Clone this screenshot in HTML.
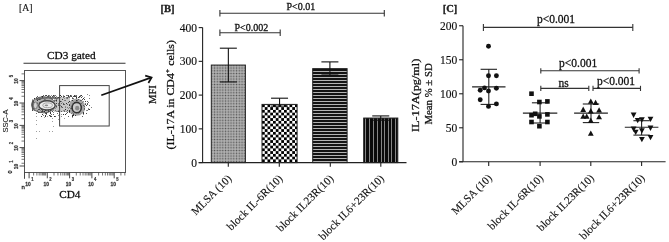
<!DOCTYPE html>
<html><head><meta charset="utf-8"><style>
html,body{margin:0;padding:0;background:#fff;}
body{width:669px;height:242px;overflow:hidden;font-family:"Liberation Serif",serif;}
svg{display:block;filter:grayscale(1);}
text{stroke:#111;stroke-width:0.28px;}
</style></head><body>
<svg width="669" height="242" viewBox="0 0 669 242">
<rect width="669" height="242" fill="#fff"/>
<text transform="translate(19,10.5) scale(0.88,1)" font-family="Liberation Serif" font-size="11" fill="#222" style="stroke-width:0.2px">[A]</text>
<text x="47" y="58.6" font-family="Liberation Serif" font-size="11.3" fill="#111">CD3 gated</text>
<line x1="23.5" y1="63.2" x2="125.5" y2="63.2" stroke="#333" stroke-width="1.1"/>
<rect x="24.5" y="70.5" width="101.0" height="102.0" fill="none" stroke="#555" stroke-width="1"/>
<line x1="19.5" y1="80.6" x2="24.5" y2="80.6" stroke="#333" stroke-width="0.9"/>
<line x1="19.5" y1="103.0" x2="24.5" y2="103.0" stroke="#333" stroke-width="0.9"/>
<line x1="19.5" y1="125.4" x2="24.5" y2="125.4" stroke="#333" stroke-width="0.9"/>
<line x1="19.5" y1="147.6" x2="24.5" y2="147.6" stroke="#333" stroke-width="0.9"/>
<line x1="19.5" y1="166.0" x2="24.5" y2="166.0" stroke="#333" stroke-width="0.9"/>
<line x1="21.5" y1="96.26" x2="24.5" y2="96.26" stroke="#444" stroke-width="0.75"/>
<line x1="21.5" y1="92.31" x2="24.5" y2="92.31" stroke="#444" stroke-width="0.75"/>
<line x1="21.5" y1="89.51" x2="24.5" y2="89.51" stroke="#444" stroke-width="0.75"/>
<line x1="21.5" y1="87.34" x2="24.5" y2="87.34" stroke="#444" stroke-width="0.75"/>
<line x1="21.5" y1="85.57" x2="24.5" y2="85.57" stroke="#444" stroke-width="0.75"/>
<line x1="21.5" y1="84.07" x2="24.5" y2="84.07" stroke="#444" stroke-width="0.75"/>
<line x1="21.5" y1="82.77" x2="24.5" y2="82.77" stroke="#444" stroke-width="0.75"/>
<line x1="21.5" y1="81.62" x2="24.5" y2="81.62" stroke="#444" stroke-width="0.75"/>
<line x1="21.5" y1="118.66" x2="24.5" y2="118.66" stroke="#444" stroke-width="0.75"/>
<line x1="21.5" y1="114.71" x2="24.5" y2="114.71" stroke="#444" stroke-width="0.75"/>
<line x1="21.5" y1="111.91" x2="24.5" y2="111.91" stroke="#444" stroke-width="0.75"/>
<line x1="21.5" y1="109.74" x2="24.5" y2="109.74" stroke="#444" stroke-width="0.75"/>
<line x1="21.5" y1="107.97" x2="24.5" y2="107.97" stroke="#444" stroke-width="0.75"/>
<line x1="21.5" y1="106.47" x2="24.5" y2="106.47" stroke="#444" stroke-width="0.75"/>
<line x1="21.5" y1="105.17" x2="24.5" y2="105.17" stroke="#444" stroke-width="0.75"/>
<line x1="21.5" y1="104.02" x2="24.5" y2="104.02" stroke="#444" stroke-width="0.75"/>
<line x1="21.5" y1="141.06" x2="24.5" y2="141.06" stroke="#444" stroke-width="0.75"/>
<line x1="21.5" y1="137.11" x2="24.5" y2="137.11" stroke="#444" stroke-width="0.75"/>
<line x1="21.5" y1="134.31" x2="24.5" y2="134.31" stroke="#444" stroke-width="0.75"/>
<line x1="21.5" y1="132.14" x2="24.5" y2="132.14" stroke="#444" stroke-width="0.75"/>
<line x1="21.5" y1="130.37" x2="24.5" y2="130.37" stroke="#444" stroke-width="0.75"/>
<line x1="21.5" y1="128.87" x2="24.5" y2="128.87" stroke="#444" stroke-width="0.75"/>
<line x1="21.5" y1="127.57" x2="24.5" y2="127.57" stroke="#444" stroke-width="0.75"/>
<line x1="21.5" y1="126.42" x2="24.5" y2="126.42" stroke="#444" stroke-width="0.75"/>
<line x1="21.5" y1="163.26" x2="24.5" y2="163.26" stroke="#444" stroke-width="0.75"/>
<line x1="21.5" y1="159.31" x2="24.5" y2="159.31" stroke="#444" stroke-width="0.75"/>
<line x1="21.5" y1="156.51" x2="24.5" y2="156.51" stroke="#444" stroke-width="0.75"/>
<line x1="21.5" y1="154.34" x2="24.5" y2="154.34" stroke="#444" stroke-width="0.75"/>
<line x1="21.5" y1="152.57" x2="24.5" y2="152.57" stroke="#444" stroke-width="0.75"/>
<line x1="21.5" y1="151.07" x2="24.5" y2="151.07" stroke="#444" stroke-width="0.75"/>
<line x1="21.5" y1="149.77" x2="24.5" y2="149.77" stroke="#444" stroke-width="0.75"/>
<line x1="21.5" y1="148.62" x2="24.5" y2="148.62" stroke="#444" stroke-width="0.75"/>
<line x1="21.5" y1="73.86" x2="24.5" y2="73.86" stroke="#444" stroke-width="0.75"/>
<line x1="24.5" y1="172.5" x2="24.5" y2="178.8" stroke="#333" stroke-width="0.9"/>
<line x1="29.1" y1="172.5" x2="29.1" y2="178.3" stroke="#333" stroke-width="0.9"/>
<line x1="47.3" y1="172.5" x2="47.3" y2="178.3" stroke="#333" stroke-width="0.9"/>
<line x1="69.6" y1="172.5" x2="69.6" y2="178.3" stroke="#333" stroke-width="0.9"/>
<line x1="91.9" y1="172.5" x2="91.9" y2="178.3" stroke="#333" stroke-width="0.9"/>
<line x1="114.2" y1="172.5" x2="114.2" y2="178.3" stroke="#333" stroke-width="0.9"/>
<line x1="54.01" y1="172.5" x2="54.01" y2="175.5" stroke="#444" stroke-width="0.75"/>
<line x1="57.94" y1="172.5" x2="57.94" y2="175.5" stroke="#444" stroke-width="0.75"/>
<line x1="60.73" y1="172.5" x2="60.73" y2="175.5" stroke="#444" stroke-width="0.75"/>
<line x1="62.89" y1="172.5" x2="62.89" y2="175.5" stroke="#444" stroke-width="0.75"/>
<line x1="64.65" y1="172.5" x2="64.65" y2="175.5" stroke="#444" stroke-width="0.75"/>
<line x1="66.15" y1="172.5" x2="66.15" y2="175.5" stroke="#444" stroke-width="0.75"/>
<line x1="67.44" y1="172.5" x2="67.44" y2="175.5" stroke="#444" stroke-width="0.75"/>
<line x1="68.58" y1="172.5" x2="68.58" y2="175.5" stroke="#444" stroke-width="0.75"/>
<line x1="76.31" y1="172.5" x2="76.31" y2="175.5" stroke="#444" stroke-width="0.75"/>
<line x1="80.24" y1="172.5" x2="80.24" y2="175.5" stroke="#444" stroke-width="0.75"/>
<line x1="83.03" y1="172.5" x2="83.03" y2="175.5" stroke="#444" stroke-width="0.75"/>
<line x1="85.19" y1="172.5" x2="85.19" y2="175.5" stroke="#444" stroke-width="0.75"/>
<line x1="86.95" y1="172.5" x2="86.95" y2="175.5" stroke="#444" stroke-width="0.75"/>
<line x1="88.45" y1="172.5" x2="88.45" y2="175.5" stroke="#444" stroke-width="0.75"/>
<line x1="89.74" y1="172.5" x2="89.74" y2="175.5" stroke="#444" stroke-width="0.75"/>
<line x1="90.88" y1="172.5" x2="90.88" y2="175.5" stroke="#444" stroke-width="0.75"/>
<line x1="98.61" y1="172.5" x2="98.61" y2="175.5" stroke="#444" stroke-width="0.75"/>
<line x1="102.54" y1="172.5" x2="102.54" y2="175.5" stroke="#444" stroke-width="0.75"/>
<line x1="105.33" y1="172.5" x2="105.33" y2="175.5" stroke="#444" stroke-width="0.75"/>
<line x1="107.49" y1="172.5" x2="107.49" y2="175.5" stroke="#444" stroke-width="0.75"/>
<line x1="109.25" y1="172.5" x2="109.25" y2="175.5" stroke="#444" stroke-width="0.75"/>
<line x1="110.75" y1="172.5" x2="110.75" y2="175.5" stroke="#444" stroke-width="0.75"/>
<line x1="112.04" y1="172.5" x2="112.04" y2="175.5" stroke="#444" stroke-width="0.75"/>
<line x1="113.18" y1="172.5" x2="113.18" y2="175.5" stroke="#444" stroke-width="0.75"/>
<line x1="120.91" y1="172.5" x2="120.91" y2="175.5" stroke="#444" stroke-width="0.75"/>
<line x1="124.84" y1="172.5" x2="124.84" y2="175.5" stroke="#444" stroke-width="0.75"/>
<line x1="33.63895192021725" y1="172.5" x2="33.63895192021725" y2="175.5" stroke="#444" stroke-width="0.75"/>
<line x1="36.87903108684179" y1="172.5" x2="36.87903108684179" y2="175.5" stroke="#444" stroke-width="0.75"/>
<line x1="39.17790384043451" y1="172.5" x2="39.17790384043451" y2="175.5" stroke="#444" stroke-width="0.75"/>
<line x1="40.96104807978275" y1="172.5" x2="40.96104807978275" y2="175.5" stroke="#444" stroke-width="0.75"/>
<line x1="42.41798300705904" y1="172.5" x2="42.41798300705904" y2="175.5" stroke="#444" stroke-width="0.75"/>
<line x1="43.64980393626232" y1="172.5" x2="43.64980393626232" y2="175.5" stroke="#444" stroke-width="0.75"/>
<line x1="44.71685576065176" y1="172.5" x2="44.71685576065176" y2="175.5" stroke="#444" stroke-width="0.75"/>
<line x1="45.658062173683575" y1="172.5" x2="45.658062173683575" y2="175.5" stroke="#444" stroke-width="0.75"/>
<text transform="translate(28.1,185.9) scale(0.8,1)" font-family="Liberation Sans" font-size="6.2" font-weight="bold" text-anchor="middle" fill="#333" style="stroke:#333;stroke-width:0.25px">10</text>
<text transform="translate(32.3,180.9) scale(0.85,1)" font-family="Liberation Sans" font-size="4.9" font-weight="bold" text-anchor="middle" fill="#333" style="stroke:#333;stroke-width:0.2px">1</text>
<text transform="translate(46.3,185.9) scale(0.8,1)" font-family="Liberation Sans" font-size="6.2" font-weight="bold" text-anchor="middle" fill="#333" style="stroke:#333;stroke-width:0.25px">10</text>
<text transform="translate(50.5,180.9) scale(0.85,1)" font-family="Liberation Sans" font-size="4.9" font-weight="bold" text-anchor="middle" fill="#333" style="stroke:#333;stroke-width:0.2px">2</text>
<text transform="translate(68.6,185.9) scale(0.8,1)" font-family="Liberation Sans" font-size="6.2" font-weight="bold" text-anchor="middle" fill="#333" style="stroke:#333;stroke-width:0.25px">10</text>
<text transform="translate(72.8,180.9) scale(0.85,1)" font-family="Liberation Sans" font-size="4.9" font-weight="bold" text-anchor="middle" fill="#333" style="stroke:#333;stroke-width:0.2px">3</text>
<text transform="translate(90.9,185.9) scale(0.8,1)" font-family="Liberation Sans" font-size="6.2" font-weight="bold" text-anchor="middle" fill="#333" style="stroke:#333;stroke-width:0.25px">10</text>
<text transform="translate(95.1,180.9) scale(0.85,1)" font-family="Liberation Sans" font-size="4.9" font-weight="bold" text-anchor="middle" fill="#333" style="stroke:#333;stroke-width:0.2px">4</text>
<text transform="translate(113.2,185.9) scale(0.8,1)" font-family="Liberation Sans" font-size="6.2" font-weight="bold" text-anchor="middle" fill="#333" style="stroke:#333;stroke-width:0.25px">10</text>
<text transform="translate(117.4,180.9) scale(0.85,1)" font-family="Liberation Sans" font-size="4.9" font-weight="bold" text-anchor="middle" fill="#333" style="stroke:#333;stroke-width:0.2px">5</text>
<text x="21.6" y="188.6" font-family="Liberation Sans" font-size="6" fill="#222">n</text>
<text transform="translate(17.9,81.1) rotate(-90) scale(0.8,1)" font-family="Liberation Sans" font-size="6.2" font-weight="bold" text-anchor="middle" fill="#333" style="stroke:#333;stroke-width:0.25px">10</text>
<text transform="translate(12.7,76.2) rotate(-90) scale(0.85,1)" font-family="Liberation Sans" font-size="4.9" font-weight="bold" text-anchor="middle" fill="#333" style="stroke:#333;stroke-width:0.2px">5</text>
<text transform="translate(17.9,103.5) rotate(-90) scale(0.8,1)" font-family="Liberation Sans" font-size="6.2" font-weight="bold" text-anchor="middle" fill="#333" style="stroke:#333;stroke-width:0.25px">10</text>
<text transform="translate(12.7,98.6) rotate(-90) scale(0.85,1)" font-family="Liberation Sans" font-size="4.9" font-weight="bold" text-anchor="middle" fill="#333" style="stroke:#333;stroke-width:0.2px">4</text>
<text transform="translate(17.9,125.9) rotate(-90) scale(0.8,1)" font-family="Liberation Sans" font-size="6.2" font-weight="bold" text-anchor="middle" fill="#333" style="stroke:#333;stroke-width:0.25px">10</text>
<text transform="translate(12.7,121.0) rotate(-90) scale(0.85,1)" font-family="Liberation Sans" font-size="4.9" font-weight="bold" text-anchor="middle" fill="#333" style="stroke:#333;stroke-width:0.2px">3</text>
<text transform="translate(17.9,148.1) rotate(-90) scale(0.8,1)" font-family="Liberation Sans" font-size="6.2" font-weight="bold" text-anchor="middle" fill="#333" style="stroke:#333;stroke-width:0.25px">10</text>
<text transform="translate(12.7,143.2) rotate(-90) scale(0.85,1)" font-family="Liberation Sans" font-size="4.9" font-weight="bold" text-anchor="middle" fill="#333" style="stroke:#333;stroke-width:0.2px">2</text>
<text transform="translate(17.9,166.5) rotate(-90) scale(0.8,1)" font-family="Liberation Sans" font-size="6.2" font-weight="bold" text-anchor="middle" fill="#333" style="stroke:#333;stroke-width:0.25px">10</text>
<text transform="translate(12.7,161.6) rotate(-90) scale(0.85,1)" font-family="Liberation Sans" font-size="4.9" font-weight="bold" text-anchor="middle" fill="#333" style="stroke:#333;stroke-width:0.2px">1</text>
<g transform="translate(12.3,173.5) rotate(-90)"><text x="0" y="0" font-family="Liberation Sans" font-size="5.5" fill="#222">0</text></g>
<text transform="translate(8.4,121) rotate(-90)" font-family="Liberation Sans" font-size="7.5" text-anchor="middle" fill="#222" style="stroke-width:0.1px">SSC-A</text>
<text x="59.2" y="197.6" font-family="Liberation Serif" font-size="11.2" fill="#111">CD4</text>
<g filter="url(#blur1)">
<ellipse cx="43.6" cy="104.8" rx="12.0" ry="8.0" fill="#b2b2b2" stroke="#5a5a5a" stroke-width="1"/>
<ellipse cx="76.6" cy="107.2" rx="8.6" ry="8.6" fill="#a6a6a6"/>
<rect x="54" y="97" width="16" height="15" fill="#c8c8c8"/>
<path d="M60 95h1v1h-1zM42 96h1v1h-1zM55 97h1v1h-1zM69 111h1v1h-1z" fill="rgb(32,32,32)"/>
<path d="M53 95h1v1h-1zM81 95h1v1h-1zM79 96h1v1h-1zM42 97h1v1h-1zM46 97h1v1h-1zM76 97h1v1h-1zM34 98h1v1h-1zM83 98h1v1h-1zM39 99h1v1h-1zM62 99h1v1h-1zM37 100h1v1h-1zM56 100h1v1h-1zM72 100h1v1h-1zM76 100h1v1h-1zM33 101h1v1h-1zM60 101h1v1h-1zM69 101h1v1h-1zM66 103h1v1h-1zM48 104h1v1h-1zM74 104h1v1h-1zM40 105h1v1h-1zM47 105h1v1h-1zM69 105h1v1h-1zM33 106h1v1h-1zM78 107h1v1h-1zM65 109h1v1h-1zM89 109h1v1h-1zM45 110h1v1h-1zM69 110h1v1h-1zM44 111h1v1h-1zM78 111h1v1h-1zM46 113h1v1h-1zM50 113h1v1h-1zM83 113h1v1h-1zM42 114h1v1h-1zM63 114h1v1h-1zM65 114h1v1h-1zM72 115h1v1h-1zM73 115h1v1h-1zM45 116h1v1h-1zM50 116h1v1h-1zM54 116h1v1h-1zM72 116h1v1h-1z" fill="rgb(48,48,48)"/>
<path d="M46 95h1v1h-1zM68 95h1v1h-1zM70 95h1v1h-1zM74 95h1v1h-1zM61 96h1v1h-1zM64 96h1v1h-1zM68 96h1v1h-1zM74 96h1v1h-1zM75 96h1v1h-1zM58 97h1v1h-1zM78 97h1v1h-1zM51 98h1v1h-1zM38 99h1v1h-1zM84 99h1v1h-1zM85 101h1v1h-1zM56 103h1v1h-1zM35 105h1v1h-1zM59 105h1v1h-1zM86 105h1v1h-1zM47 106h1v1h-1zM53 106h1v1h-1zM61 106h1v1h-1zM53 107h1v1h-1zM80 107h1v1h-1zM34 108h1v1h-1zM44 108h1v1h-1zM72 108h1v1h-1zM42 109h1v1h-1zM47 109h1v1h-1zM73 109h1v1h-1zM32 110h1v1h-1zM50 110h1v1h-1zM78 110h1v1h-1zM42 111h1v1h-1zM48 111h1v1h-1zM58 111h1v1h-1zM50 112h1v1h-1zM83 112h1v1h-1zM73 114h1v1h-1zM45 115h1v1h-1zM49 115h1v1h-1zM75 115h1v1h-1zM41 116h1v1h-1zM51 116h1v1h-1z" fill="rgb(64,64,64)"/>
<path d="M45 95h1v1h-1zM48 96h1v1h-1zM52 96h1v1h-1zM71 96h1v1h-1zM73 96h1v1h-1zM47 97h1v1h-1zM81 97h1v1h-1zM37 98h1v1h-1zM72 98h1v1h-1zM82 99h1v1h-1zM59 102h1v1h-1zM68 102h1v1h-1zM59 103h1v1h-1zM74 103h1v1h-1zM32 104h1v1h-1zM41 104h1v1h-1zM44 104h1v1h-1zM49 104h1v1h-1zM50 104h1v1h-1zM63 104h1v1h-1zM69 104h1v1h-1zM85 104h1v1h-1zM87 104h1v1h-1zM80 105h1v1h-1zM56 106h1v1h-1zM81 106h1v1h-1zM75 107h1v1h-1zM71 108h1v1h-1zM38 109h1v1h-1zM39 109h1v1h-1zM41 109h1v1h-1zM42 110h1v1h-1zM48 110h1v1h-1zM67 110h1v1h-1zM52 111h1v1h-1zM59 111h1v1h-1zM38 112h1v1h-1zM67 112h1v1h-1zM86 113h1v1h-1zM59 114h1v1h-1z" fill="rgb(80,80,80)"/>
<path d="M43 95h1v1h-1zM48 95h1v1h-1zM37 96h1v1h-1zM47 96h1v1h-1zM50 96h1v1h-1zM63 96h1v1h-1zM70 96h1v1h-1zM76 96h1v1h-1zM36 97h1v1h-1zM48 97h1v1h-1zM50 97h1v1h-1zM53 97h1v1h-1zM67 97h1v1h-1zM76 98h1v1h-1zM78 99h1v1h-1zM77 100h1v1h-1zM80 100h1v1h-1zM47 101h1v1h-1zM87 101h1v1h-1zM34 102h1v1h-1zM39 102h1v1h-1zM43 102h1v1h-1zM74 102h1v1h-1zM75 102h1v1h-1zM37 103h1v1h-1zM54 103h1v1h-1zM63 103h1v1h-1zM87 103h1v1h-1zM39 104h1v1h-1zM64 104h1v1h-1zM73 104h1v1h-1zM58 105h1v1h-1zM83 105h1v1h-1zM40 106h1v1h-1zM75 106h1v1h-1zM84 106h1v1h-1zM59 107h1v1h-1zM62 107h1v1h-1zM48 108h1v1h-1zM84 108h1v1h-1zM76 109h1v1h-1zM41 111h1v1h-1zM49 111h1v1h-1zM61 111h1v1h-1zM64 111h1v1h-1zM74 111h1v1h-1zM39 112h1v1h-1zM59 112h1v1h-1zM69 112h1v1h-1zM79 112h1v1h-1zM45 113h1v1h-1zM66 113h1v1h-1zM53 114h1v1h-1zM55 116h1v1h-1zM68 116h1v1h-1zM82 116h1v1h-1z" fill="rgb(96,96,96)"/>
<path d="M55 95h1v1h-1zM66 95h1v1h-1zM76 95h1v1h-1zM80 95h1v1h-1zM41 96h1v1h-1zM54 96h1v1h-1zM80 96h1v1h-1zM57 97h1v1h-1zM63 97h1v1h-1zM69 97h1v1h-1zM67 98h1v1h-1zM73 98h1v1h-1zM40 99h1v1h-1zM44 99h1v1h-1zM54 100h1v1h-1zM65 100h1v1h-1zM81 100h1v1h-1zM54 101h1v1h-1zM58 103h1v1h-1zM61 103h1v1h-1zM78 103h1v1h-1zM79 103h1v1h-1zM81 103h1v1h-1zM43 104h1v1h-1zM67 104h1v1h-1zM80 104h1v1h-1zM42 105h1v1h-1zM72 105h1v1h-1zM73 105h1v1h-1zM77 105h1v1h-1zM89 105h1v1h-1zM48 107h1v1h-1zM77 107h1v1h-1zM70 108h1v1h-1zM84 109h1v1h-1zM88 109h1v1h-1zM34 110h1v1h-1zM37 110h1v1h-1zM55 110h1v1h-1zM43 111h1v1h-1zM36 113h1v1h-1zM57 113h1v1h-1zM73 113h1v1h-1zM51 114h1v1h-1z" fill="rgb(112,112,112)"/>
<path d="M67 95h1v1h-1zM43 96h1v1h-1zM82 96h1v1h-1zM60 97h1v1h-1zM66 97h1v1h-1zM79 97h1v1h-1zM89 98h1v1h-1zM37 99h1v1h-1zM45 99h1v1h-1zM56 99h1v1h-1zM53 100h1v1h-1zM55 100h1v1h-1zM64 100h1v1h-1zM56 101h1v1h-1zM61 101h1v1h-1zM32 102h1v1h-1zM33 102h1v1h-1zM46 102h1v1h-1zM51 102h1v1h-1zM82 102h1v1h-1zM88 102h1v1h-1zM36 103h1v1h-1zM73 103h1v1h-1zM85 103h1v1h-1zM45 104h1v1h-1zM58 104h1v1h-1zM56 105h1v1h-1zM60 105h1v1h-1zM33 107h1v1h-1zM44 107h1v1h-1zM45 107h1v1h-1zM65 107h1v1h-1zM67 107h1v1h-1zM69 107h1v1h-1zM91 107h1v1h-1zM46 110h1v1h-1zM64 110h1v1h-1zM87 110h1v1h-1zM73 111h1v1h-1zM77 111h1v1h-1zM53 112h1v1h-1zM72 112h1v1h-1zM71 113h1v1h-1zM78 113h1v1h-1zM46 114h1v1h-1zM43 115h1v1h-1zM50 115h1v1h-1zM47 116h1v1h-1z" fill="rgb(128,128,128)"/>
<path d="M87 94h1v1h-1zM49 95h1v1h-1zM51 95h1v1h-1zM54 95h1v1h-1zM59 95h1v1h-1zM63 95h1v1h-1zM71 95h1v1h-1zM75 95h1v1h-1zM89 95h1v1h-1zM44 96h1v1h-1zM49 96h1v1h-1zM53 96h1v1h-1zM56 96h1v1h-1zM69 96h1v1h-1zM43 97h1v1h-1zM52 97h1v1h-1zM68 97h1v1h-1zM72 97h1v1h-1zM84 97h1v1h-1zM39 98h1v1h-1zM52 98h1v1h-1zM58 98h1v1h-1zM64 98h1v1h-1zM66 98h1v1h-1zM44 100h1v1h-1zM42 101h1v1h-1zM73 101h1v1h-1zM83 101h1v1h-1zM37 102h1v1h-1zM42 102h1v1h-1zM72 103h1v1h-1zM80 103h1v1h-1zM49 106h1v1h-1zM65 106h1v1h-1zM71 106h1v1h-1zM56 107h1v1h-1zM61 107h1v1h-1zM32 108h1v1h-1zM36 108h1v1h-1zM55 108h1v1h-1zM68 108h1v1h-1zM88 108h1v1h-1zM77 109h1v1h-1zM40 110h1v1h-1zM53 110h1v1h-1zM58 110h1v1h-1zM63 110h1v1h-1zM86 110h1v1h-1zM56 111h1v1h-1zM57 111h1v1h-1zM66 111h1v1h-1zM76 111h1v1h-1zM75 112h1v1h-1zM61 114h1v1h-1zM83 114h1v1h-1zM58 115h1v1h-1zM61 116h1v1h-1z" fill="rgb(144,144,144)"/>
<path d="M71 100h1v1h-1zM62 102h1v1h-1zM46 105h1v1h-1zM81 108h1v1h-1zM36 116h1v1h-1zM36 120h1v1h-1zM36 124h1v1h-1zM36 131h1v1h-1zM39 131h1v1h-1zM36 138h1v1h-1zM49 131h1v1h-1zM52 131h1v1h-1zM53 126h1v1h-1zM52 118h1v1h-1zM52 121h1v1h-1zM44 117h1v1h-1zM58 119h1v1h-1zM47 116h1v1h-1zM64 118h1v1h-1zM72 117h1v1h-1z" fill="rgb(160,160,160)"/>
<ellipse cx="32.9" cy="105" rx="1.2" ry="6" fill="#555"/>
<path d="M36 99.5 Q46 96.5 58 98.5" fill="none" stroke="#666" stroke-width="1.6"/>
<ellipse cx="35.4" cy="105.4" rx="2.0" ry="3.3" fill="#d4d4d4" stroke="#6a6a6a" stroke-width="0.8"/>
<ellipse cx="47" cy="105.4" rx="8.2" ry="4.6" fill="#ececec" stroke="#444" stroke-width="1.4"/>
<ellipse cx="47.6" cy="105.3" rx="4.8" ry="2.4" fill="none" stroke="#9a9a9a" stroke-width="0.9"/>
<ellipse cx="46.4" cy="105.3" rx="1.8" ry="0.9" fill="#8a8a8a"/>
<ellipse cx="76.7" cy="107.6" rx="4.6" ry="5.2" fill="#cdcdcd" stroke="#333" stroke-width="1.6"/>
<ellipse cx="77.2" cy="108.2" rx="2.1" ry="2.4" fill="#8c8c8c"/>
</g>
<rect x="59.6" y="85.6" width="49.6" height="40.4" fill="none" stroke="#444" stroke-width="1"/>
<line x1="101.3" y1="95.2" x2="151" y2="77.6" stroke="#111" stroke-width="1.7"/>
<polyline points="145.2,75.6 151.6,77.4 148.4,83" fill="none" stroke="#111" stroke-width="1.7" stroke-linejoin="miter"/>
<text x="160.4" y="12.4" font-family="Liberation Serif" font-size="10.6" font-weight="bold" fill="#222">[B]</text>
<line x1="202.6" y1="27.599999999999994" x2="202.6" y2="162.6" stroke="#222" stroke-width="1.1"/>
<line x1="198.7" y1="162.6" x2="406.5" y2="162.6" stroke="#222" stroke-width="1.1"/>
<line x1="198.7" y1="162.60" x2="202.6" y2="162.60" stroke="#222" stroke-width="1.1"/>
<text x="197" y="166.50" font-family="Liberation Serif" font-size="11.5" text-anchor="end" fill="#111" style="stroke-width:0.15px">0</text>
<line x1="198.7" y1="128.85" x2="202.6" y2="128.85" stroke="#222" stroke-width="1.1"/>
<text x="197" y="132.75" font-family="Liberation Serif" font-size="11.5" text-anchor="end" fill="#111" style="stroke-width:0.15px">100</text>
<line x1="198.7" y1="95.10" x2="202.6" y2="95.10" stroke="#222" stroke-width="1.1"/>
<text x="197" y="99.00" font-family="Liberation Serif" font-size="11.5" text-anchor="end" fill="#111" style="stroke-width:0.15px">200</text>
<line x1="198.7" y1="61.35" x2="202.6" y2="61.35" stroke="#222" stroke-width="1.1"/>
<text x="197" y="65.25" font-family="Liberation Serif" font-size="11.5" text-anchor="end" fill="#111" style="stroke-width:0.15px">300</text>
<line x1="198.7" y1="27.60" x2="202.6" y2="27.60" stroke="#222" stroke-width="1.1"/>
<text x="197" y="31.50" font-family="Liberation Serif" font-size="11.5" text-anchor="end" fill="#111" style="stroke-width:0.15px">400</text>
<line x1="228.3" y1="162.6" x2="228.3" y2="166.7" stroke="#222" stroke-width="1.1"/>
<line x1="279.3" y1="162.6" x2="279.3" y2="166.7" stroke="#222" stroke-width="1.1"/>
<line x1="330.3" y1="162.6" x2="330.3" y2="166.7" stroke="#222" stroke-width="1.1"/>
<line x1="380.8" y1="162.6" x2="380.8" y2="166.7" stroke="#222" stroke-width="1.1"/>
<defs>
<filter id="blur1" x="-5%" y="-5%" width="110%" height="110%"><feGaussianBlur stdDeviation="0.55"/></filter>
<pattern id="pDots" x="211.3" y="64.8" width="2.75" height="2.75" patternUnits="userSpaceOnUse"><rect width="2.75" height="2.75" fill="#9a9a9a"/><rect x="0" y="0" width="1" height="1" fill="#555"/><rect x="1.37" y="1.37" width="1" height="1" fill="#dedede"/></pattern>
<pattern id="pChk" x="262" y="104.4" width="5.5" height="5.5" patternUnits="userSpaceOnUse"><rect width="5.5" height="5.5" fill="#fff"/><rect x="0" y="0" width="2.75" height="2.75" fill="#000"/><rect x="2.75" y="2.75" width="2.75" height="2.75" fill="#000"/></pattern>
<pattern id="pH" x="0" y="131" width="3" height="3" patternUnits="userSpaceOnUse"><rect width="3" height="3" fill="#141414"/><rect x="0" y="0" width="3" height="1" fill="#b4b4b4"/></pattern>
<pattern id="pV" x="0" y="0" width="3" height="3" patternUnits="userSpaceOnUse"><rect width="3" height="3" fill="#0a0a0a"/></pattern>
</defs>
<rect x="211.3" y="65.06" width="34.10" height="97.54" fill="url(#pDots)" stroke="#222" stroke-width="1"/>
<line x1="228.35" y1="48.19" x2="228.35" y2="81.94" stroke="#111" stroke-width="1.1"/>
<line x1="219.85" y1="48.19" x2="236.85" y2="48.19" stroke="#111" stroke-width="1.1"/>
<line x1="219.85" y1="81.94" x2="236.85" y2="81.94" stroke="#111" stroke-width="1.1"/>
<rect x="262.0" y="104.41" width="35.10" height="58.19" fill="url(#pChk)" stroke="#222" stroke-width="1"/>
<line x1="279.55" y1="98.20" x2="279.55" y2="106.10" stroke="#111" stroke-width="1.1"/>
<line x1="271.05" y1="98.20" x2="288.05" y2="98.20" stroke="#111" stroke-width="1.1"/>
<line x1="271.05" y1="106.10" x2="288.05" y2="106.10" stroke="#111" stroke-width="1.1"/>
<rect x="312.7" y="68.61" width="34.40" height="93.99" fill="url(#pH)" stroke="#222" stroke-width="1"/>
<line x1="329.90" y1="61.89" x2="329.90" y2="75.02" stroke="#111" stroke-width="1.1"/>
<line x1="321.40" y1="61.89" x2="338.40" y2="61.89" stroke="#111" stroke-width="1.1"/>
<line x1="321.40" y1="75.02" x2="338.40" y2="75.02" stroke="#111" stroke-width="1.1"/>
<rect x="363.7" y="118.05" width="34.10" height="44.55" fill="url(#pV)" stroke="#222" stroke-width="1"/>
<rect x="365" y="118.65" width="1" height="43.35" fill="#858585"/>
<rect x="369" y="118.65" width="1" height="43.35" fill="#858585"/>
<rect x="373" y="118.65" width="1" height="43.35" fill="#858585"/>
<rect x="377" y="118.65" width="1" height="43.35" fill="#858585"/>
<rect x="381" y="118.65" width="1" height="43.35" fill="#858585"/>
<rect x="384" y="118.65" width="1" height="43.35" fill="#858585"/>
<rect x="388" y="118.65" width="1" height="43.35" fill="#858585"/>
<rect x="391" y="118.65" width="1" height="43.35" fill="#858585"/>
<rect x="395" y="118.65" width="1" height="43.35" fill="#858585"/>
<line x1="380.75" y1="115.92" x2="380.75" y2="120.18" stroke="#111" stroke-width="1.1"/>
<line x1="372.25" y1="115.92" x2="389.25" y2="115.92" stroke="#111" stroke-width="1.1"/>
<line x1="372.25" y1="120.18" x2="389.25" y2="120.18" stroke="#111" stroke-width="1.1"/>
<line x1="219.9" y1="13.2" x2="384.3" y2="13.2" stroke="#333" stroke-width="1.1"/>
<line x1="219.9" y1="9.899999999999999" x2="219.9" y2="16.5" stroke="#333" stroke-width="1.1"/>
<line x1="384.3" y1="9.899999999999999" x2="384.3" y2="16.5" stroke="#333" stroke-width="1.1"/>
<line x1="219.9" y1="32.7" x2="280.2" y2="32.7" stroke="#333" stroke-width="1.1"/>
<line x1="219.9" y1="29.400000000000002" x2="219.9" y2="36.0" stroke="#333" stroke-width="1.1"/>
<line x1="280.2" y1="29.400000000000002" x2="280.2" y2="36.0" stroke="#333" stroke-width="1.1"/>
<text x="286.5" y="9.7" font-family="Liberation Serif" font-size="10" fill="#111">P&lt;0.01</text>
<text x="234.5" y="31.2" font-family="Liberation Serif" font-size="10" fill="#111">P&lt;0.002</text>
<text transform="translate(156.3,94.6) rotate(-90)" font-family="Liberation Serif" font-size="10.5" text-anchor="middle" fill="#111">MFI</text>
<text transform="translate(174.0,94.8) rotate(-90) scale(1.118,1)" font-family="Liberation Serif" font-size="10.6" text-anchor="middle" fill="#111">(IL-17A in CD4<tspan dy="-4" font-size="7">+</tspan><tspan dy="4"> cells)</tspan></text>
<text transform="translate(232.2,179.1) rotate(-45)" font-family="Liberation Serif" font-size="11.15" text-anchor="end" fill="#111" style="stroke-width:0.12px">MLSA (10)</text>
<text transform="translate(283.2,179.1) rotate(-45)" font-family="Liberation Serif" font-size="11.15" text-anchor="end" fill="#111" style="stroke-width:0.12px">block IL-6R(10)</text>
<text transform="translate(334.2,179.1) rotate(-45)" font-family="Liberation Serif" font-size="11.15" text-anchor="end" fill="#111" style="stroke-width:0.12px">block IL23R(10)</text>
<text transform="translate(384.7,179.1) rotate(-45)" font-family="Liberation Serif" font-size="11.15" text-anchor="end" fill="#111" style="stroke-width:0.12px">block IL6+23R(10)</text>
<text x="442.7" y="12.2" font-family="Liberation Serif" font-size="10.6" font-weight="bold" fill="#222">[C]</text>
<line x1="463.0" y1="25.75" x2="463.0" y2="161.8" stroke="#222" stroke-width="1.1"/>
<line x1="459.1" y1="161.8" x2="665.6" y2="161.8" stroke="#222" stroke-width="1.1"/>
<line x1="459.1" y1="161.80" x2="463.0" y2="161.80" stroke="#222" stroke-width="1.1"/>
<text x="457.3" y="165.70" font-family="Liberation Serif" font-size="11.5" text-anchor="end" fill="#111" style="stroke-width:0.15px">0</text>
<line x1="459.1" y1="127.79" x2="463.0" y2="127.79" stroke="#222" stroke-width="1.1"/>
<text x="457.3" y="131.69" font-family="Liberation Serif" font-size="11.5" text-anchor="end" fill="#111" style="stroke-width:0.15px">50</text>
<line x1="459.1" y1="93.78" x2="463.0" y2="93.78" stroke="#222" stroke-width="1.1"/>
<text x="457.3" y="97.68" font-family="Liberation Serif" font-size="11.5" text-anchor="end" fill="#111" style="stroke-width:0.15px">100</text>
<line x1="459.1" y1="59.76" x2="463.0" y2="59.76" stroke="#222" stroke-width="1.1"/>
<text x="457.3" y="63.66" font-family="Liberation Serif" font-size="11.5" text-anchor="end" fill="#111" style="stroke-width:0.15px">150</text>
<line x1="459.1" y1="25.75" x2="463.0" y2="25.75" stroke="#222" stroke-width="1.1"/>
<text x="457.3" y="29.65" font-family="Liberation Serif" font-size="11.5" text-anchor="end" fill="#111" style="stroke-width:0.15px">200</text>
<line x1="488.7" y1="161.8" x2="488.7" y2="166" stroke="#222" stroke-width="1.1"/>
<line x1="540.1" y1="161.8" x2="540.1" y2="166" stroke="#222" stroke-width="1.1"/>
<line x1="590.8" y1="161.8" x2="590.8" y2="166" stroke="#222" stroke-width="1.1"/>
<line x1="641.6" y1="161.8" x2="641.6" y2="166" stroke="#222" stroke-width="1.1"/>
<text transform="translate(492.6,178.6) rotate(-45)" font-family="Liberation Serif" font-size="11.15" text-anchor="end" fill="#111" style="stroke-width:0.12px">MLSA (10)</text>
<text transform="translate(544.0,178.6) rotate(-45)" font-family="Liberation Serif" font-size="11.15" text-anchor="end" fill="#111" style="stroke-width:0.12px">block IL-6R(10)</text>
<text transform="translate(594.7,178.6) rotate(-45)" font-family="Liberation Serif" font-size="11.15" text-anchor="end" fill="#111" style="stroke-width:0.12px">block IL23R(10)</text>
<text transform="translate(645.5,178.6) rotate(-45)" font-family="Liberation Serif" font-size="11.15" text-anchor="end" fill="#111" style="stroke-width:0.12px">block IL6+23R(10)</text>
<line x1="488.8" y1="69.3" x2="488.8" y2="104.4" stroke="#222" stroke-width="1.1"/>
<line x1="472.1" y1="86.9" x2="505.5" y2="86.9" stroke="#222" stroke-width="1.1"/>
<line x1="480.6" y1="69.3" x2="497.0" y2="69.3" stroke="#222" stroke-width="1.1"/>
<line x1="480.6" y1="104.4" x2="497.0" y2="104.4" stroke="#222" stroke-width="1.1"/>
<line x1="540.1" y1="102.8" x2="540.1" y2="123.0" stroke="#222" stroke-width="1.1"/>
<line x1="522.9" y1="113.1" x2="557.3000000000001" y2="113.1" stroke="#222" stroke-width="1.1"/>
<line x1="531.9" y1="102.8" x2="548.3000000000001" y2="102.8" stroke="#222" stroke-width="1.1"/>
<line x1="531.9" y1="123.0" x2="548.3000000000001" y2="123.0" stroke="#222" stroke-width="1.1"/>
<line x1="591.0" y1="104.0" x2="591.0" y2="122.6" stroke="#222" stroke-width="1.1"/>
<line x1="574.1" y1="113.1" x2="607.9" y2="113.1" stroke="#222" stroke-width="1.1"/>
<line x1="582.8" y1="104.0" x2="599.2" y2="104.0" stroke="#222" stroke-width="1.1"/>
<line x1="582.8" y1="122.6" x2="599.2" y2="122.6" stroke="#222" stroke-width="1.1"/>
<line x1="641.6" y1="120.7" x2="641.6" y2="135.1" stroke="#222" stroke-width="1.1"/>
<line x1="624.8000000000001" y1="127.3" x2="658.4" y2="127.3" stroke="#222" stroke-width="1.1"/>
<line x1="633.4" y1="120.7" x2="649.8000000000001" y2="120.7" stroke="#222" stroke-width="1.1"/>
<line x1="633.4" y1="135.1" x2="649.8000000000001" y2="135.1" stroke="#222" stroke-width="1.1"/>
<circle cx="488.5" cy="46.3" r="2.45" fill="#111"/>
<circle cx="488.5" cy="75.8" r="2.45" fill="#111"/>
<circle cx="496.4" cy="75.8" r="2.45" fill="#111"/>
<circle cx="480.2" cy="90.2" r="2.45" fill="#111"/>
<circle cx="484.5" cy="87.9" r="2.45" fill="#111"/>
<circle cx="488.5" cy="91.0" r="2.45" fill="#111"/>
<circle cx="496.4" cy="88.2" r="2.45" fill="#111"/>
<circle cx="480.2" cy="99.8" r="2.45" fill="#111"/>
<circle cx="488.5" cy="106.4" r="2.45" fill="#111"/>
<circle cx="496.4" cy="103.9" r="2.45" fill="#111"/>
<rect x="529.2" y="91.4" width="4.6" height="4.6" fill="#111"/>
<rect x="537.1" y="99.7" width="4.6" height="4.6" fill="#111"/>
<rect x="545.1" y="99.1" width="4.6" height="4.6" fill="#111"/>
<rect x="529.2" y="112.9" width="4.6" height="4.6" fill="#111"/>
<rect x="532.9" y="111.5" width="4.6" height="4.6" fill="#111"/>
<rect x="537.1" y="114.1" width="4.6" height="4.6" fill="#111"/>
<rect x="545.1" y="112.1" width="4.6" height="4.6" fill="#111"/>
<rect x="529.2" y="119.7" width="4.6" height="4.6" fill="#111"/>
<rect x="537.1" y="123.9" width="4.6" height="4.6" fill="#111"/>
<rect x="545.1" y="119.7" width="4.6" height="4.6" fill="#111"/>
<polygon points="590.8,98.4 593.7,103.7 587.9,103.7" fill="#111"/>
<polygon points="595.6,99.8 598.5,105.1 592.7,105.1" fill="#111"/>
<polygon points="583.2,106.6 586.1,111.9 580.3,111.9" fill="#111"/>
<polygon points="590.8,108.1 593.7,113.4 587.9,113.4" fill="#111"/>
<polygon points="599.1,107.2 602.0,112.5 596.2,112.5" fill="#111"/>
<polygon points="583.2,113.4 586.1,118.7 580.3,118.7" fill="#111"/>
<polygon points="586.7,113.4 589.6,118.7 583.8,118.7" fill="#111"/>
<polygon points="599.1,113.9 602.0,119.2 596.2,119.2" fill="#111"/>
<polygon points="590.8,117.6 593.7,122.9 587.9,122.9" fill="#111"/>
<polygon points="590.8,130.4 593.7,135.7 587.9,135.7" fill="#111"/>
<polygon points="633.6,117.9 636.5,112.6 630.7,112.6" fill="#111"/>
<polygon points="637.7,123.2 640.6,117.9 634.8,117.9" fill="#111"/>
<polygon points="641.9,122.6 644.8,117.3 639.0,117.3" fill="#111"/>
<polygon points="650.5,122.0 653.4,116.7 647.6,116.7" fill="#111"/>
<polygon points="633.6,131.9 636.5,126.6 630.7,126.6" fill="#111"/>
<polygon points="641.9,133.6 644.8,128.3 639.0,128.3" fill="#111"/>
<polygon points="650.5,130.9 653.4,125.6 647.6,125.6" fill="#111"/>
<polygon points="635.7,135.0 638.6,129.7 632.8,129.7" fill="#111"/>
<polygon points="641.9,142.3 644.8,137.0 639.0,137.0" fill="#111"/>
<polygon points="650.5,140.2 653.4,134.9 647.6,134.9" fill="#111"/>
<line x1="483.4" y1="27.4" x2="632.8" y2="27.4" stroke="#333" stroke-width="1.1"/>
<line x1="483.4" y1="23.9" x2="483.4" y2="30.9" stroke="#333" stroke-width="1.1"/>
<line x1="632.8" y1="23.9" x2="632.8" y2="30.9" stroke="#333" stroke-width="1.1"/>
<line x1="540.8" y1="70.8" x2="639.1" y2="70.8" stroke="#333" stroke-width="1.1"/>
<line x1="540.8" y1="68.2" x2="540.8" y2="73.39999999999999" stroke="#333" stroke-width="1.1"/>
<line x1="639.1" y1="68.2" x2="639.1" y2="73.39999999999999" stroke="#333" stroke-width="1.1"/>
<line x1="540.8" y1="88.4" x2="588.8" y2="88.4" stroke="#333" stroke-width="1.1"/>
<line x1="540.8" y1="85.80000000000001" x2="540.8" y2="91.0" stroke="#333" stroke-width="1.1"/>
<line x1="588.8" y1="85.80000000000001" x2="588.8" y2="91.0" stroke="#333" stroke-width="1.1"/>
<line x1="593.0" y1="88.4" x2="640.5" y2="88.4" stroke="#333" stroke-width="1.1"/>
<line x1="593.0" y1="85.80000000000001" x2="593.0" y2="91.0" stroke="#333" stroke-width="1.1"/>
<line x1="640.5" y1="85.80000000000001" x2="640.5" y2="91.0" stroke="#333" stroke-width="1.1"/>
<text x="536.9" y="22.8" font-family="Liberation Serif" font-size="11.5" fill="#111">p&lt;0.001</text>
<text x="559.1" y="67.0" font-family="Liberation Serif" font-size="11.5" fill="#111">p&lt;0.001</text>
<text x="596.9" y="84.8" font-family="Liberation Serif" font-size="11.5" fill="#111">p&lt;0.001</text>
<text x="558.5" y="86.8" font-family="Liberation Serif" font-size="11.5" fill="#111">ns</text>
<text transform="translate(418.6,95.4) rotate(-90) scale(1.165,1)" font-family="Liberation Serif" font-size="10.5" text-anchor="middle" fill="#111">IL-17A(pg/ml)</text>
<text transform="translate(432.3,93.9) rotate(-90)" font-family="Liberation Serif" font-size="10.8" text-anchor="middle" fill="#111">Mean % ± SD</text>
</svg>
</body></html>
